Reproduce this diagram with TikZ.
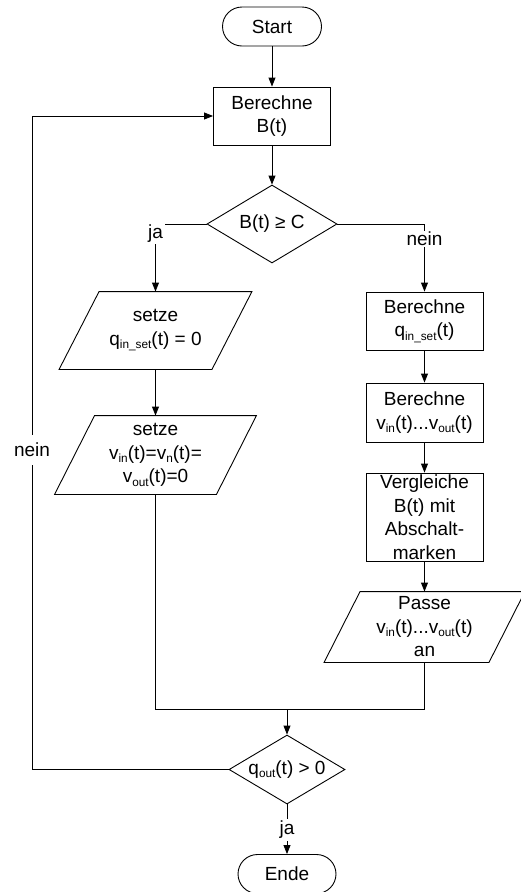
\documentclass[tikz,border=0pt]{standalone}
\usepackage{fontspec}
\setmainfont{Liberation Sans}
\usetikzlibrary{arrows.meta,shapes.geometric,calc}
\newcommand{\lsub}[1]{\raisebox{-0.35ex}{\fontsize{11.8}{12}\selectfont #1}}
\begin{document}
\begin{tikzpicture}[x=1pt,y=-1pt,
  font=\fontsize{19}{23.5}\selectfont, line width=0.9pt,
  term/.style={draw, rectangle, rounded corners=19.5pt, minimum width=99pt, minimum height=39pt, inner sep=0pt},
  proc/.style={draw, rectangle, minimum width=117pt, inner sep=0pt, align=center},
  io/.style={rectangle, inner sep=0pt, align=center},
  dec/.style={draw, diamond, inner sep=0pt, aspect=1.67},
  arr/.style={-{Triangle[length=9pt,width=7pt]}},
  lbl/.style={fill=white, inner sep=2pt}]
\useasboundingbox (0,0) rectangle (520,892);

\node[term] (start) at (272,26.5) {Start};
\node[proc, minimum height=58pt] (calcB) at (272,116) {Berechne\\B(t)};
\node[dec, minimum width=130pt, minimum height=78pt] (dec1) at (272,224) {B(t) ≥ C};
\node[io, minimum width=152pt, minimum height=77pt] (p1) at (155.5,330.5) {setze\\q\lsub{in\_set}(t) = 0};
\node[io, minimum width=161pt, minimum height=78pt] (p2) at (155.5,455) {setze\\v\lsub{in}(t)=v\lsub{n}(t)=\\v\lsub{out}(t)=0};
\node[proc, minimum height=58pt] (r1) at (424.5,321) {Berechne\\q\lsub{in\_set}(t)};
\node[proc, minimum height=59pt] (r2) at (424.5,412.5) {Berechne\\v\lsub{in}(t)...v\lsub{out}(t)};
\node[proc, minimum height=88pt] (r3) at (424.5,517) {Vergleiche\\B(t) mit\\Abschalt-\\marken};
\node[io, minimum width=164pt, minimum height=70pt] (p3) at (424.5,627) {Passe\\v\lsub{in}(t)...v\lsub{out}(t)\\an};
\node[dec, minimum width=116pt, minimum height=69pt] (dec2) at (287,769.5) {q\lsub{out}(t) > 0};
\node[term, minimum width=98pt] (ende) at (287,874) {Ende};

% parallelogram outlines
\draw ([xshift=-20pt]p1.south west) -- ([xshift=20pt]p1.north west) -- ([xshift=20pt]p1.north east) -- ([xshift=-20pt]p1.south east) -- cycle;
\draw ([xshift=-20pt]p2.south west) -- ([xshift=20pt]p2.north west) -- ([xshift=20pt]p2.north east) -- ([xshift=-20pt]p2.south east) -- cycle;
\draw ([xshift=-18pt]p3.south west) -- ([xshift=18pt]p3.north west) -- ([xshift=18pt]p3.north east) -- ([xshift=-18pt]p3.south east) -- cycle;

% connectors
\draw[arr] (start) -- (calcB);
\draw[arr] (calcB) -- (dec1);
\draw[arr] (dec1.west) -| (p1.north);
\draw[arr] (dec1.east) -| (r1.north);
\draw[arr] (p1) -- (p2);
\draw[arr] (r1) -- (r2);
\draw[arr] (r2) -- (r3);
\draw[arr] (r3) -- (p3);
\coordinate (mrg) at (287,709);
\draw (p2.south) |- (mrg) -| (p3.south);
\draw[arr] (mrg) -- (dec2.north);
\coordinate (loop) at (32,116);
\draw[arr] (dec2.west) -| (loop) -- (calcB.west);
\draw[arr] (dec2.south) -- (ende.north);

% labels
\node[lbl] (ja1) at (155.5,233.5) {ja};
\node[lbl, inner sep=1pt] (nein1) at (424.5,239) {nein};
\node[lbl, inner ysep=8pt] (nein2) at (32,450) {nein};
\node[lbl] (ja2) at (287,830) {ja};
\end{tikzpicture}
\end{document}
